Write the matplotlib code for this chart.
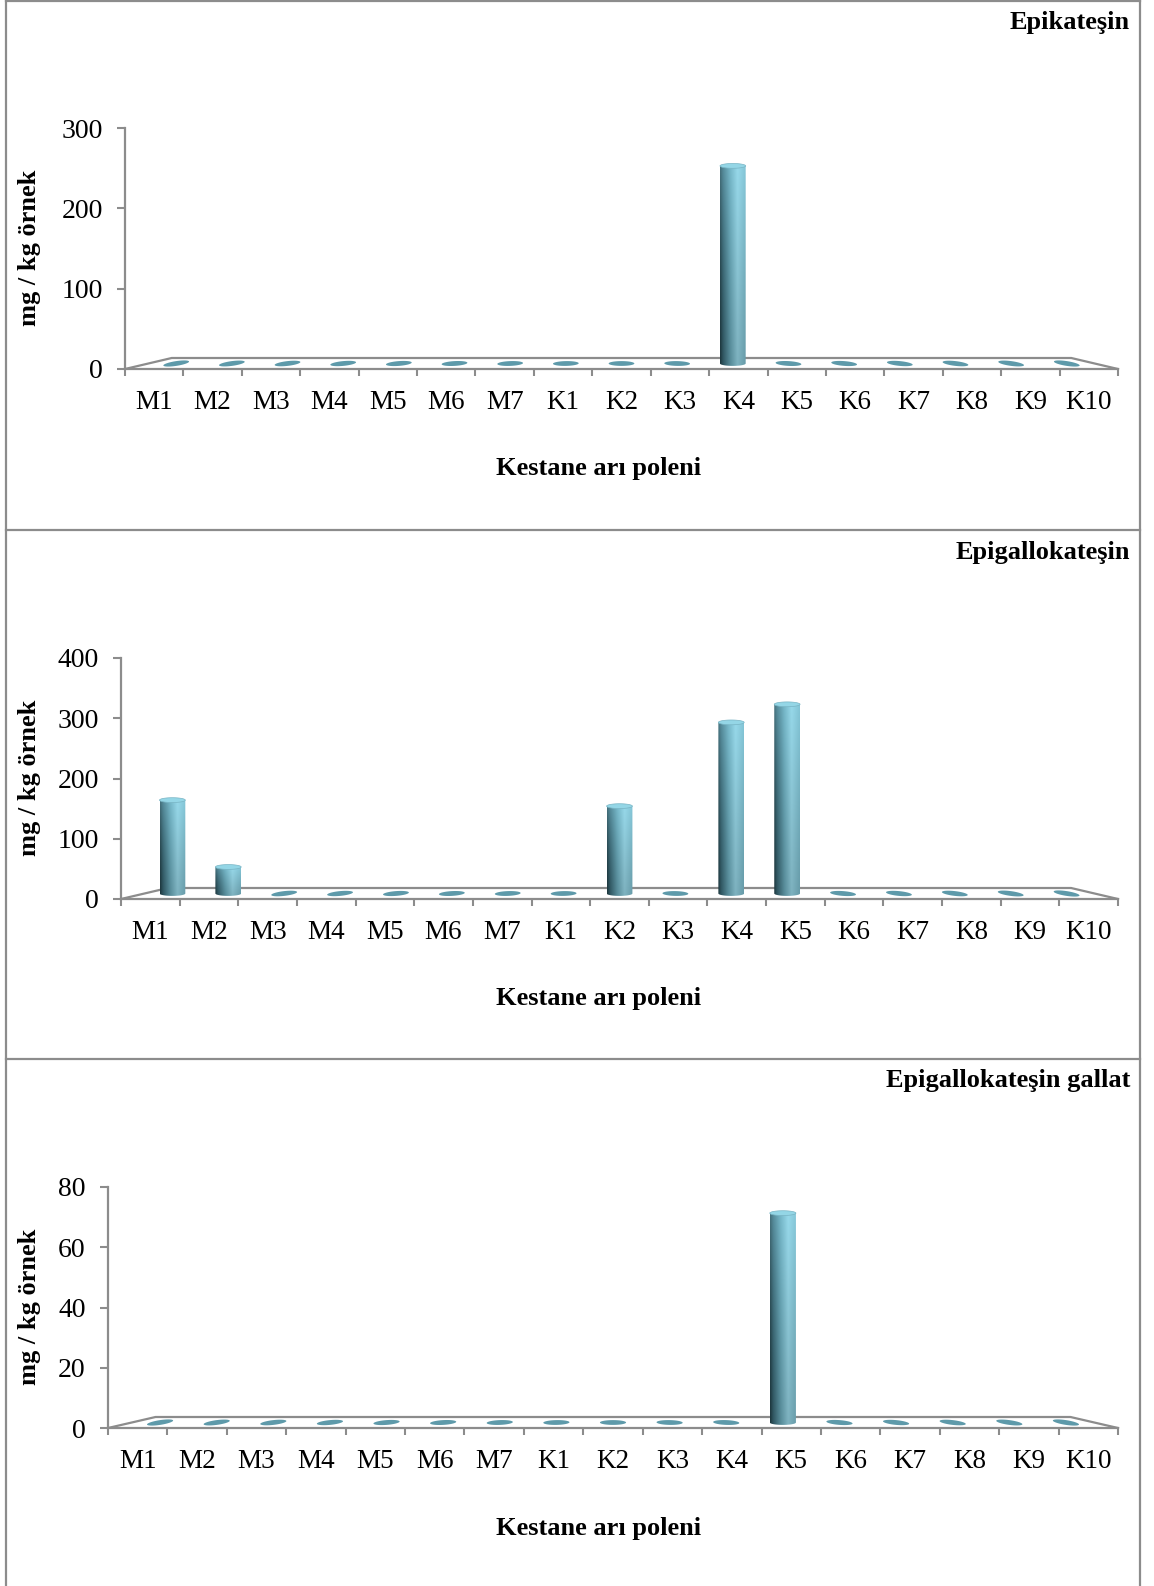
import matplotlib
matplotlib.use("Agg")
import matplotlib.pyplot as plt
import numpy as np
from matplotlib.path import Path
from matplotlib.patches import PathPatch, Polygon
from matplotlib.lines import Line2D

plt.rcParams['font.family'] = ['Liberation Serif', 'DejaVu Serif']

# data (mg / kg örnek)
categories = ["M1", "M2", "M3", "M4", "M5", "M6", "M7",
              "K1", "K2", "K3", "K4", "K5", "K6", "K7", "K8", "K9", "K10"]
epikatesin = [0, 0, 0, 0, 0, 0, 0, 0, 0, 0, 246, 0, 0, 0, 0, 0, 0]
epigallokatesin = [155, 44, 0, 0, 0, 0, 0, 0, 145, 0, 284, 314, 0, 0, 0, 0, 0]
epigallokatesin_gallat = [0, 0, 0, 0, 0, 0, 0, 0, 0, 0, 0, 69.5, 0, 0, 0, 0, 0]
titles = ["Epikateşin", "Epigallokateşin", "Epigallokateşin gallat"]
y_max = [300, 400, 80]
y_step = [100, 100, 20]

W, H = 1154, 1586
GRAY = '#8c8c8c'
fig = plt.figure(figsize=(W / 100, H / 100), dpi=100)


def cylinder_gradient(nx=60, ny=120):
    u = np.linspace(0, 1, nx)
    stops = [0, 0.12, 0.4, 0.68, 1.0]
    cols = np.array([[0x22, 0x40, 0x48], [0x3a, 0x68, 0x75], [0x68, 0xa6, 0xb6],
                     [0x96, 0xd4, 0xe4], [0x7a, 0xb8, 0xc8]]) / 255.0
    prof = np.stack([np.interp(u, stops, cols[:, k]) for k in range(3)], axis=-1)
    v = np.linspace(0, 1, ny)[:, None, None]
    cyan = np.array([0.60, 0.89, 0.97])
    img = prof[None, :, :] * (0.84 + 0.16 * v)
    img = img + (v ** 2) * 0.3 * (cyan - img)
    return np.clip(img, 0, 1)


GRAD = cylinder_gradient()


def ellipse_pts(cx, cy, a, b, s=0.0):
    t = np.linspace(0, 2 * np.pi, 80)
    return np.column_stack([cx + a * np.cos(t), cy + b * np.sin(t) + s * a * np.cos(t)])


def draw_panel(top, left, values, title, ymax, step):
    right, ax_top, ax_bot = 1118, 128, 369
    ax = fig.add_axes([left / W, 1 - (top + ax_bot) / H, (right - left) / W, (ax_bot - ax_top) / H])
    n = len(categories)
    ppx = (right - left) / n
    ppy = (ax_bot - ax_top) / ymax

    for side in ['top', 'right']:
        ax.spines[side].set_visible(False)
    for side in ['left', 'bottom']:
        ax.spines[side].set_color(GRAY)
        ax.spines[side].set_linewidth(1.6)

    ax.set_yticks(np.arange(0, ymax + 1, step))
    ax.tick_params(axis='y', length=6, width=1.5, color=GRAY, labelsize=20, pad=10)
    ax.set_xticks(np.arange(n + 1))
    ax.set_xticks(np.arange(n) + 0.5, minor=True)
    ax.set_xticklabels(categories, minor=True)
    ax.tick_params(axis='x', which='major', length=5, width=1.5, color=GRAY, labelbottom=False)
    ax.tick_params(axis='x', which='minor', length=0, labelsize=19.5, pad=15)

    # floor of the 3D plot
    shift = 0.8
    d = 11 / ppy
    ax.plot([0, shift, n - shift, n], [0, d, d, 0], color=GRAY, lw=1.6, clip_on=False, zorder=1)

    xs = shift / 2 + (np.arange(n) + 0.5) * (n - shift) / n
    base = d / 2
    a = 0.22
    b = 2.4 / ppy
    for i, v in enumerate(values):
        cx = xs[i]
        if v == 0:
            s = 0.15 * (1 - 2 * i / (n - 1)) * ppx / ppy
            ax.add_patch(Polygon(ellipse_pts(cx, base, a, b, s), closed=True,
                                 facecolor='#5e9aaa', edgecolor='none', zorder=2))
            continue
        ytop = base + v
        t = np.linspace(np.pi, 2 * np.pi, 40)
        verts = [(cx - a, ytop)] + list(zip(cx + a * np.cos(t), base + b * np.sin(t))) + [(cx + a, ytop), (cx - a, ytop)]
        body = PathPatch(Path(verts), facecolor='none', edgecolor='none')
        ax.add_patch(body)
        im = ax.imshow(GRAD, extent=[cx - a, cx + a, base - b, ytop], origin='lower',
                       aspect='auto', interpolation='bilinear', zorder=3)
        im.set_clip_path(body)
        ax.add_patch(Polygon(ellipse_pts(cx, ytop, a, b), closed=True,
                             facecolor='#94d6e6', edgecolor='#78b4c4', lw=0.5, zorder=4))

    ax.set_xlim(0, n)
    ax.set_ylim(0, ymax)
    ax.set_facecolor('none')

    fig.text(1130 / W, 1 - (top + 22) / H, title, ha='right', va='center',
             fontsize=19, fontweight='bold')
    fig.text(599 / W, 1 - (top + 469) / H, 'Kestane arı poleni', ha='center', va='center',
             fontsize=19, fontweight='bold')
    fig.text(30 / W, 1 - (top + 248) / H, 'mg / kg örnek', rotation=90, ha='center', va='center',
             fontsize=19, fontweight='bold')


panel_tops = [0, 530, 1059]
lefts = [125, 121, 108]
series = [epikatesin, epigallokatesin, epigallokatesin_gallat]
for k in range(3):
    draw_panel(panel_tops[k], lefts[k], series[k], titles[k], y_max[k], y_step[k])

# panel frames
for x in [6, 1140]:
    fig.add_artist(Line2D([x / W, x / W], [0, 1 - 1 / H], color=GRAY, lw=1.6))
for y in [1, 530, 1059]:
    fig.add_artist(Line2D([6 / W, 1140 / W], [1 - y / H, 1 - y / H], color=GRAY, lw=1.6))

fig.savefig("out.png", dpi=100)
